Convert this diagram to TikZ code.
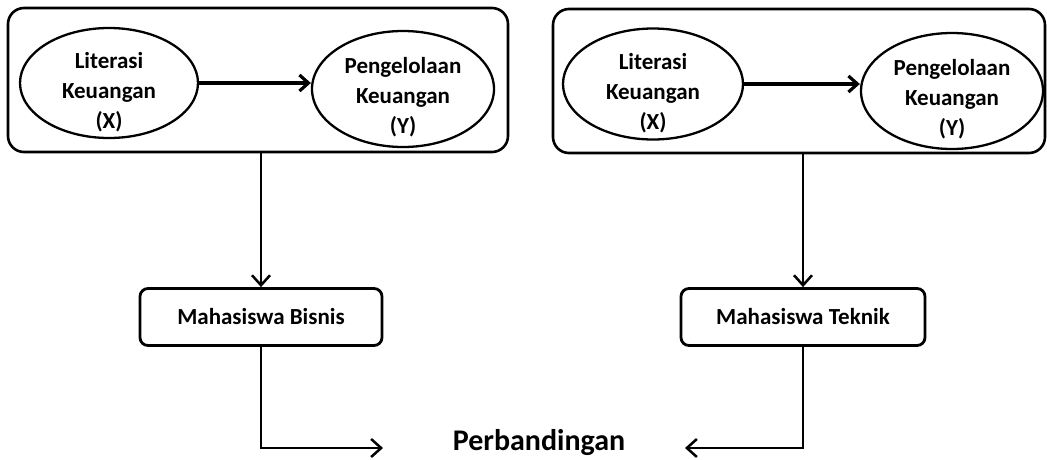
\documentclass[tikz,border=0pt]{standalone}
\usepackage{fontspec}
\setmainfont{Carlito}
\usetikzlibrary{shapes.geometric,arrows.meta}
\begin{document}
\begin{tikzpicture}[x=1pt,y=-1pt,
  outerbox/.style={draw,line width=2.6pt,rounded corners=16pt,minimum width=#1,minimum height=144pt,inner sep=0pt},
  varell/.style={draw,ellipse,line width=2.3pt,inner sep=0pt},
  ellipsetext/.style={align=center,font=\fontsize{23}{30}\selectfont\bfseries,inner sep=0pt},
  groupbox/.style={draw,line width=2.8pt,rounded corners=8pt,minimum width=#1,minimum height=57pt,inner sep=0pt,font=\fontsize{23}{26}\selectfont\bfseries},
  mainarrow/.style={line width=3.2pt,-{Straight Barb[length=9pt,width=16pt,line width=3.2pt]}},
  flow/.style={line width=2.5pt,-{Straight Barb[length=10pt,width=18pt,line width=2.5pt]}}]
\useasboundingbox (0,0) rectangle (1047,459);
% left group
\node[outerbox=500pt] (outerL) at (258,80) {};
\node[varell,minimum width=178pt,minimum height=110pt] (ellLX) at (109,83) {};
\node[ellipsetext] (tLX) at (109,92) {Literasi\\Keuangan\\(X)};
\node[varell,minimum width=182pt,minimum height=116pt] (ellLY) at (403,89) {};
\node[ellipsetext] (tLY) at (403,97) {Pengelolaan\\Keuangan\\(Y)};
\draw[mainarrow] (ellLX.east) -- (ellLY.west |- ellLX.east);
% right group
\node[outerbox=492pt] (outerR) at (799,81) {};
\node[varell,minimum width=180pt,minimum height=111pt] (ellRX) at (653,84) {};
\node[ellipsetext] (tRX) at (653,93) {Literasi\\Keuangan\\(X)};
\node[varell,minimum width=182pt,minimum height=116pt] (ellRY) at (952,91) {};
\node[ellipsetext] (tRY) at (952,99) {Pengelolaan\\Keuangan\\(Y)};
\draw[mainarrow] (ellRX.east) -- (ellRY.west |- ellRX.east);
% groups
\node[groupbox=242pt] (bisnis) at (261,317) {Mahasiswa Bisnis};
\node[groupbox=244pt] (teknik) at (803,317) {Mahasiswa Teknik};
\node[minimum width=303pt,inner sep=0pt,font=\fontsize{30}{34}\selectfont\bfseries] (perb) at (539,443) {Perbandingan};
\coordinate (perbL) at (383,448);
\coordinate (perbR) at (685,448);
\draw[flow] (bisnis.north |- outerL.south) -- (bisnis.north);
\draw[flow] (teknik.north |- outerR.south) -- (teknik.north);
\draw[flow] (bisnis.south) |- (perbL);
\draw[flow] (teknik.south) |- (perbR);
\end{tikzpicture}
\end{document}
